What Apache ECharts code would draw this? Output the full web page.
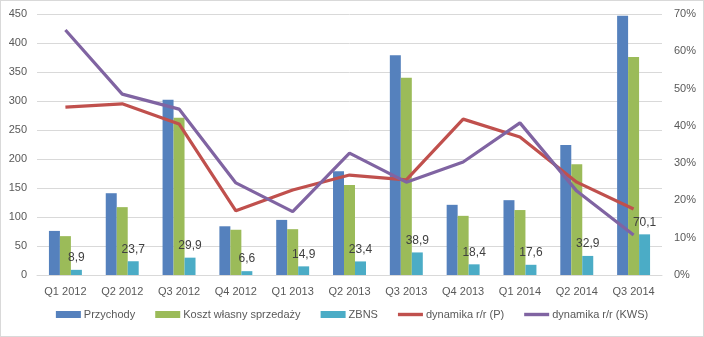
<!DOCTYPE html>
<html>
<head>
<meta charset="utf-8">
<script src="https://cdn.jsdelivr.net/npm/echarts@6/dist/echarts.min.js"></script>
<style>
  html, body { margin: 0; padding: 0; background: #fff; }
  #chart { width: 702px; height: 335px; border: 1px solid #d9d9d9; }
</style>
</head>
<body>
<div id="chart"></div>
<script>
// Quarterly revenue, cost of sales and ZBNS (left axis), with y/y dynamics in % (right axis)
const categories = ['Q1 2012', 'Q2 2012', 'Q3 2012', 'Q4 2012', 'Q1 2013', 'Q2 2013',
                    'Q3 2013', 'Q4 2013', 'Q1 2014', 'Q2 2014', 'Q3 2014'];
const przychody = [76, 141, 302, 84, 95, 179, 379, 121, 129, 224, 447];
const kosztWlasny = [67, 117, 271, 78, 79, 155, 340, 102, 112, 191, 376];
const zbns = [8.9, 23.7, 29.9, 6.6, 14.9, 23.4, 38.9, 18.4, 17.6, 32.9, 70.1];
const dynamikaP = [45.0, 45.9, 40.5, 17.2, 22.8, 26.8, 25.5, 41.8, 37.0, 24.9, 17.7];
const dynamikaKWS = [65.7, 48.5, 44.5, 24.7, 17.0, 32.7, 24.9, 30.3, 40.8, 22.5, 10.7];
const leftTicks = { min: 0, max: 450, interval: 50 };
const rightTicks = { min: 0, max: 70, interval: 10 };

const FONT = "'Liberation Sans', Arial, sans-serif";
const TEXT = '#595959';
const GRID = '#d9d9d9';
const LINE_ICON = 'path://M0,0h25v3.4h-25z';

const chart = echarts.init(document.getElementById('chart'));
chart.setOption({
  animation: false,
  textStyle: { fontFamily: FONT },
  grid: { left: 36, right: 41, top: 13, bottom: 61, containLabel: false },
  legend: {
    left: 'center', bottom: 11,
    itemWidth: 25, itemHeight: 7, itemGap: 20,
    textStyle: { color: TEXT, fontSize: 11, fontFamily: FONT, padding: [0, 0, 0, -2] },
    data: [
      { name: 'Przychody', icon: 'rect' },
      { name: 'Koszt własny sprzedaży', icon: 'rect' },
      { name: 'ZBNS', icon: 'rect' },
      { name: 'dynamika r/r (P)', icon: LINE_ICON },
      { name: 'dynamika r/r (KWS)', icon: LINE_ICON }
    ]
  },
  xAxis: {
    type: 'category',
    data: categories,
    axisLine: { lineStyle: { color: GRID } },
    axisTick: { show: false },
    axisLabel: { color: TEXT, fontSize: 11, margin: 11, interval: 0 }
  },
  yAxis: [
    {
      type: 'value', min: leftTicks.min, max: leftTicks.max, interval: leftTicks.interval,
      axisLine: { show: false }, axisTick: { show: false },
      axisLabel: { color: TEXT, fontSize: 11, margin: 10 },
      splitLine: { lineStyle: { color: GRID } }
    },
    {
      type: 'value', min: rightTicks.min, max: rightTicks.max, interval: rightTicks.interval,
      axisLine: { show: false }, axisTick: { show: false },
      axisLabel: { color: TEXT, fontSize: 11, margin: 12, formatter: '{value}%' },
      splitLine: { show: false }
    }
  ],
  series: [
    {
      name: 'Przychody', type: 'bar', data: przychody,
      itemStyle: { color: '#5581BD' },
      barGap: '0%', barCategoryGap: '42%'
    },
    {
      name: 'Koszt własny sprzedaży', type: 'bar', data: kosztWlasny,
      itemStyle: { color: '#9BBB59' }
    },
    {
      name: 'ZBNS', type: 'bar', data: zbns,
      itemStyle: { color: '#4BACC6' },
      label: {
        show: true, position: 'top', distance: 6,
        color: '#404040', fontSize: 12, fontFamily: FONT,
        formatter: p => p.value.toFixed(1).replace('.', ',')
      }
    },
    {
      name: 'dynamika r/r (P)', type: 'line', yAxisIndex: 1, data: dynamikaP,
      symbol: 'none', z: 5,
      lineStyle: { color: '#C0504D', width: 3.2 },
      itemStyle: { color: '#C0504D' }
    },
    {
      name: 'dynamika r/r (KWS)', type: 'line', yAxisIndex: 1, data: dynamikaKWS,
      symbol: 'none', z: 5,
      lineStyle: { color: '#8064A2', width: 3.2 },
      itemStyle: { color: '#8064A2' }
    }
  ]
});
</script>
</body>
</html>
